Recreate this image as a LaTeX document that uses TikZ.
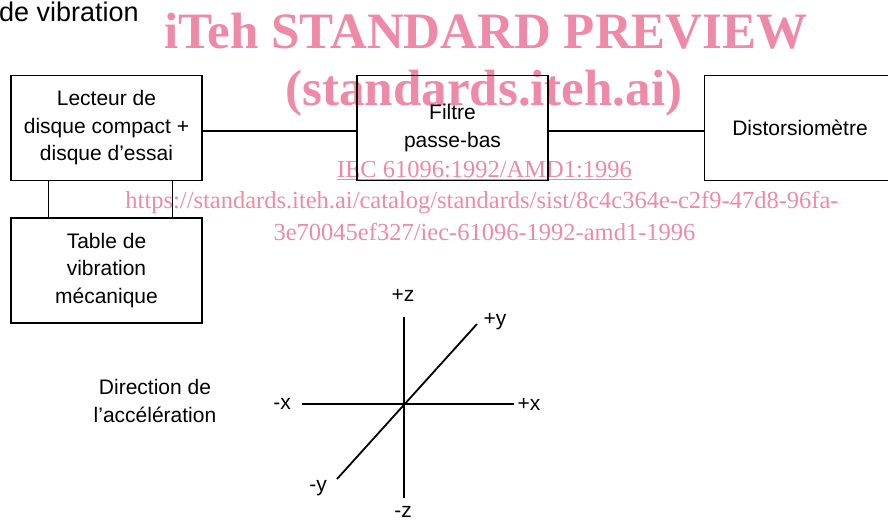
\documentclass[tikz,border=0pt]{standalone}
\usepackage{fontspec}
\setmainfont{Liberation Sans}
\newfontfamily\wmserif{Liberation Serif}
\usetikzlibrary{positioning,calc}
\definecolor{wmpink}{RGB}{238,138,168}
\tikzset{
  blk/.style={draw=black,line width=1.8pt,minimum width=191pt,minimum height=105pt,
    inner sep=2pt,align=center,font=\fontsize{21}{27.5}\selectfont},
  wire/.style={line width=1.5pt},
  axis/.style={line width=1.8pt},
  axlbl/.style={font=\fontsize{21}{25}\selectfont,inner sep=0pt},
  txt/.style={align=center,font=\fontsize{21}{27.5}\selectfont,inner sep=0pt},
  wmbig/.style={text=wmpink,font=\wmserif\bfseries\fontsize{51}{51}\selectfont,
    inner sep=0pt,anchor=base},
  wmsmall/.style={text=wmpink,font=\wmserif\fontsize{24.5}{24.5}\selectfont,
    inner sep=0pt,anchor=base},
}
\begin{document}
\begin{tikzpicture}[x=1pt,y=-1pt]
  \useasboundingbox (0,0) rectangle (888,525);
  \clip (0,0) rectangle (888,525);
  % watermark
  \node[wmbig] (wm1) at (486,48) {iTeh STANDARD PREVIEW};
  \node[wmbig] (wm2) at (484,105) {(standards.iteh.ai)};
  \node[wmsmall] (wm3) at (484.5,177) {\underline{IEC 61096:1992/AMD1:1996}};
  \node[wmsmall] (wm4) at (482,208)
    {https://standards.iteh.ai/catalog/standards/sist/8c4c364e-c2f9-47d8-96fa-};
  \node[wmsmall] (wm5) at (484.5,240) {3e70045ef327/iec-61096-1992-amd1-1996};
  % blocks
  \node[txt,font=\fontsize{27}{30}\selectfont,anchor=base west] (ttl) at (-1,21) {de vibration};
  \node[blk] (cdp) at (106.5,128) {Lecteur de\\disque compact +\\disque d’essai};
  \node[blk] (vib) at (106.5,270.5) {Table de\\vibration\\mécanique};
  \node[blk] (lpf) at (452.5,128) {Filtre\\passe-bas};
  \node[blk] (dist) at (800,128) {Distorsiomètre};
  \draw[wire] ([yshift=-3pt]cdp.east) -- ([yshift=-3pt]lpf.west);
  \draw[wire] ([yshift=-3pt]lpf.east) -- ([yshift=-3pt]dist.west);
  \draw[wire] ([xshift=38.5pt]cdp.south west) -- ([xshift=38.5pt]vib.north west);
  \draw[wire] ([xshift=-30.5pt]cdp.south east) -- ([xshift=-30.5pt]vib.north east);
  % acceleration axes
  \node[txt] (dir) at (155,401) {Direction de\\l’accélération};
  \coordinate (xa) at (302,404);
  \coordinate (xb) at (514,404);
  \coordinate (za) at (404,317);
  \coordinate (zb) at (404,498);
  \coordinate (ya) at (337,479);
  \coordinate (yb) at (477,324);
  \draw[axis] (xa) -- (xb);
  \draw[axis] (za) -- (zb);
  \draw[axis] (ya) -- (yb);
  \node[axlbl] (xm) at (282,404) {-x};
  \node[axlbl] (xp) at (529,404) {+x};
  \node[axlbl] (zp) at (403,295) {+z};
  \node[axlbl] (zm) at (403,512) {-z};
  \node[axlbl] (yp) at (495,322) {+y};
  \node[axlbl] (ym) at (318,488) {-y};
\end{tikzpicture}
\end{document}
